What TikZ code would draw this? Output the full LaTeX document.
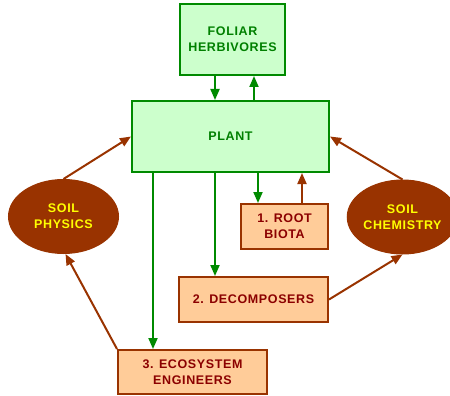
\documentclass[tikz,border=0pt]{standalone}
\usepackage{fontspec}
\setmainfont{Liberation Sans}[LetterSpace=5.0]
\usetikzlibrary{shapes.geometric,arrows.meta}
\definecolor{gline}{HTML}{008A00}
\definecolor{gfill}{HTML}{CCFFCC}
\definecolor{gtext}{HTML}{008000}
\definecolor{bline}{HTML}{993300}
\definecolor{ofill}{HTML}{FFCC99}
\definecolor{otext}{HTML}{8B0000}
\definecolor{ytext}{HTML}{FFFF00}
\tikzset{
  base/.style={inner sep=0pt, align=center, font=\fontsize{12.5}{16}\selectfont\bfseries},
  gbox/.style={base, rectangle, draw=gline, fill=gfill, text=gtext, line width=2pt},
  obox/.style={base, rectangle, draw=bline, fill=ofill, text=otext, line width=2pt},
  oval/.style={base, ellipse, draw=bline, fill=bline, text=ytext, line width=1pt},
  garrow/.style={draw=gline, line width=2pt, -{Triangle[length=11pt,width=9pt]}, fill=gline},
  barrow/.style={draw=bline, line width=2pt, -{Triangle[length=11pt,width=9pt]}, fill=bline},
}
\begin{document}
\begin{tikzpicture}[x=1pt,y=-1pt]
\useasboundingbox (0,0) rectangle (450,396);
\node[gbox, minimum width=105pt, minimum height=71pt] (herb) at (232.5,39.5) {FOLIAR\\HERBIVORES};
\node[gbox, minimum width=197pt, minimum height=71pt] (plant) at (230.5,136.5) {PLANT};
\node[obox, minimum width=87pt, minimum height=45pt] (root) at (284.5,226.5) {1. ROOT\\BIOTA};
\node[obox, minimum width=149pt, minimum height=45pt] (decomp) at (253.5,299.5) {2. DECOMPOSERS};
\node[obox, minimum width=149pt, minimum height=44pt] (eco) at (192.5,372) {3. ECOSYSTEM\\ENGINEERS};
\node[oval, minimum width=110pt, minimum height=74pt] (phys) at (63.5,216.5) {SOIL\\PHYSICS};
\node[oval, minimum width=110pt, minimum height=74pt] (chem) at (402.5,217) {SOIL\\CHEMISTRY};
\coordinate (xa) at (215,0);
\coordinate (xb) at (254,0);
\coordinate (xc) at (153,0);
\coordinate (xd) at (258,0);
\coordinate (xe) at (302,0);
\draw[garrow] (herb.south -| xa) -- (plant.north -| xa);
\draw[garrow] (plant.north -| xb) -- (herb.south -| xb);
\draw[garrow] (plant.south -| xc) -- (eco.north -| xc);
\draw[garrow] (plant.south -| xa) -- (decomp.north -| xa);
\draw[garrow] (plant.south -| xd) -- (root.north -| xd);
\draw[barrow] (root.north -| xe) -- (plant.south -| xe);
\draw[barrow] (phys.north) -- (plant.west);
\draw[barrow] (chem.north) -- (plant.east);
\draw[barrow] (eco.north west) -- ([xshift=2pt]phys.south);
\draw[barrow] (decomp.east) -- (chem.south);
\end{tikzpicture}
\end{document}
